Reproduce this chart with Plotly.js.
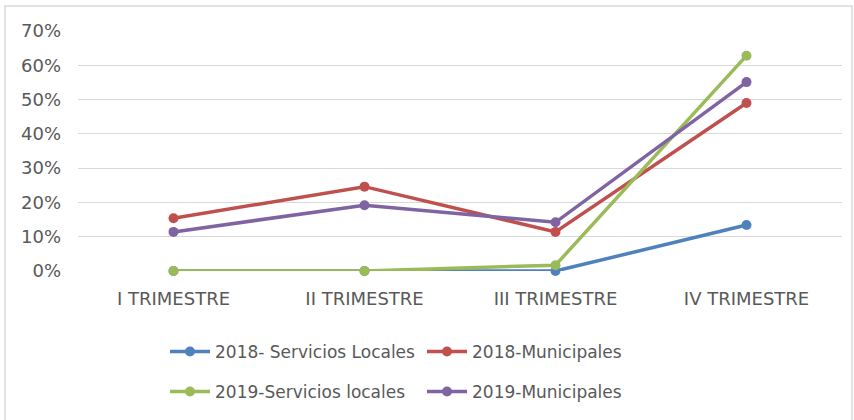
<!DOCTYPE html>
<html>
<head>
<meta charset="utf-8">
<script src="https://cdn.plot.ly/plotly-3.0.1.min.js"></script>
<style>
  html, body { margin: 0; padding: 0; background: #ffffff; }
  #chart { width: 854px; height: 420px; }
</style>
</head>
<body>
<div id="chart"></div>
<script>
const categories = ["I TRIMESTRE", "II TRIMESTRE", "III TRIMESTRE", "IV TRIMESTRE"];
const serviciosLocales2018 = [0.0, 0.0, 0.0, 0.134];
const municipales2018 = [0.154, 0.246, 0.114, 0.490];
const serviciosLocales2019 = [0.0, 0.0, 0.017, 0.628];
const municipales2019 = [0.114, 0.192, 0.142, 0.551];
const seriesNames = ["2018- Servicios Locales", "2018-Municipales", "2019-Servicios locales", "2019-Municipales"];
const yTickVals = [0, 0.1, 0.2, 0.3, 0.4, 0.5, 0.6, 0.7];
const yTickText = ["0%", "10%", "20%", "30%", "40%", "50%", "60%", "70%"];

const colors = ["#4F81BD", "#C0504D", "#9BBB59", "#8064A2"];
const seriesValues = [serviciosLocales2018, municipales2018, serviciosLocales2019, municipales2019];
const legends = ["legend", "legend", "legend2", "legend2"];

const FONT = "DejaVu Sans, sans-serif";

const traces = seriesValues.map((vals, i) => ({
  type: "scatter",
  mode: "lines+markers",
  x: categories,
  y: vals,
  name: seriesNames[i],
  legend: legends[i],
  line: { color: colors[i], width: 3.5 },
  marker: { color: colors[i], size: 10 },
  cliponaxis: false
}));

// plot area geometry (pixels)
const L = 78, R = 12, T = 31, B = 148;
const W = 854 - L - R, H = 420 - T - B;
const px = x => (x - L) / W;
const py = y => (420 - B - y) / H;

const legendCommon = {
  orientation: "h",
  xanchor: "left",
  yanchor: "middle",
  entrywidth: 202,
  entrywidthmode: "pixels",
  font: { family: FONT, size: 17, color: "#595959" },
  bgcolor: "rgba(0,0,0,0)",
  itemwidth: 40,
  traceorder: "normal"
};

const layout = {
  width: 854,
  height: 420,
  margin: { l: L, r: R, t: T, b: B },
  paper_bgcolor: "#ffffff",
  plot_bgcolor: "#ffffff",
  showlegend: true,
  font: { family: FONT, color: "#595959" },
  xaxis: {
    type: "category",
    range: [-0.5, 3.5],
    showgrid: false,
    showline: false,
    zeroline: false,
    ticks: "",
    tickfont: { family: FONT, size: 18, color: "#595959" },
    ticklabelstandoff: 15,
    fixedrange: true
  },
  yaxis: {
    range: [0, 0.7],
    tickvals: yTickVals,
    ticktext: yTickText,
    showgrid: true,
    gridcolor: "#d9d9d9",
    gridwidth: 1,
    showline: false,
    zeroline: false,
    ticks: "",
    tickfont: { family: FONT, size: 18, color: "#595959" },
    ticklabelstandoff: 16,
    fixedrange: true
  },
  legend: Object.assign({}, legendCommon, { x: px(165), y: py(352) }),
  legend2: Object.assign({}, legendCommon, { x: px(165), y: py(392) }),
  shapes: [{
    type: "rect",
    xref: "paper", yref: "paper",
    x0: px(5), x1: px(852),
    y0: py(425), y1: py(6),
    line: { color: "#d9d9d9", width: 1.5 },
    fillcolor: "rgba(0,0,0,0)",
    layer: "below"
  }]
};

Plotly.newPlot("chart", traces, layout, { staticPlot: true, displayModeBar: false });
</script>
</body>
</html>
